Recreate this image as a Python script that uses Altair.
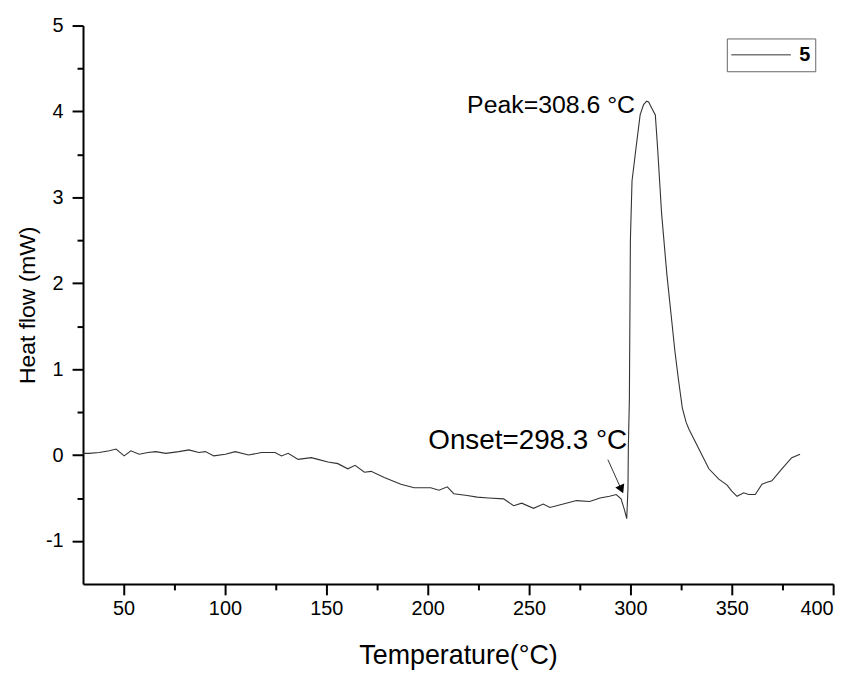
import altair as alt
import pandas as pd

# Heat-flow curve
temperature = [30, 33, 38, 43, 46.3, 50.3, 53.6, 57.7, 62, 65.9, 70.8, 77.3, 82.2, 87.1,
               90.4, 94.5, 100.2, 105.1, 111.6, 118.1, 124.7, 127.9, 131.2, 136.1, 142.6,
               145.9, 150.8, 155.7, 160.6, 164.2, 168.8, 172.1, 178.6, 186.8, 193.3, 201.5,
               205.6, 209.7, 212.9, 219.5, 224.4, 230, 237.5, 242.4, 246.4, 252.2, 257,
               260.3, 266.9, 273.4, 279.9, 285, 289.7, 293, 295.4, 297.1, 298.2, 298.8,
               299.0, 299.5, 300.0, 300.8, 302.8, 304.8, 306.5, 308.0, 309.0, 310.3, 312.3,
               313.4, 315.4, 318, 320, 322, 323.7, 325.6, 327.5, 328.9, 333.8, 338.7, 343.6,
               347.7, 350, 352.6, 355.9, 358.3, 361.6, 364.9, 367, 369.8, 374.7, 379.6, 383.7]
heat_flow = [0.02, 0.02, 0.03, 0.05, 0.07, -0.01, 0.05, 0.01, 0.03, 0.04, 0.02, 0.04, 0.06, 0.03,
             0.04, -0.01, 0.01, 0.04, 0.0, 0.03, 0.03, -0.01, 0.02, -0.05, -0.03,
             -0.05, -0.08, -0.10, -0.16, -0.12, -0.20, -0.19, -0.26, -0.34, -0.38, -0.38,
             -0.41, -0.37, -0.45, -0.47, -0.49, -0.50, -0.51, -0.59, -0.56, -0.62, -0.57,
             -0.61, -0.57, -0.53, -0.54, -0.50, -0.48, -0.46, -0.51, -0.64, -0.74, -0.39,
             0.11, 0.65, 2.5, 3.19, 3.58, 3.96, 4.08, 4.12, 4.11, 4.05, 3.96,
             3.58, 2.81, 2.1, 1.65, 1.2, 0.88, 0.55, 0.38, 0.30, 0.07, -0.16, -0.28,
             -0.35, -0.42, -0.48, -0.44, -0.46, -0.46, -0.34, -0.32, -0.30, -0.16, -0.03, 0.01]
series_name = "5"

# Annotations
ann_text = ["Peak=308.6 °C", "Onset=298.3 °C"]
ann_x = [302.3, 298.4]
ann_y = [4.07, 0.16]
ann_size = [25, 28]

arrow_x = [288.9]
arrow_y = [-0.054]
arrow_x2 = [295.5]
arrow_y2 = [-0.40]
head_x = [295.6]
head_y = [-0.40]

x_major = [50, 100, 150, 200, 250, 300, 350, 400]
x_minor = [75, 125, 175, 225, 275, 325, 375]
y_major = [-1, 0, 1, 2, 3, 4, 5]
y_minor = [-0.5, 0.5, 1.5, 2.5, 3.5, 4.5]

FONT = "Liberation Sans"

df = pd.DataFrame({"T": temperature, "HF": heat_flow, "s": [series_name] * len(temperature)})
ann = pd.DataFrame({"t": ann_text, "x": ann_x, "y": ann_y, "fs": ann_size})
arr = pd.DataFrame({"x": arrow_x, "y": arrow_y, "x2": arrow_x2, "y2": arrow_y2})
head = pd.DataFrame({"x": head_x, "y": head_y})

xscale = alt.Scale(domain=[30, 400], nice=False, zero=False)
yscale = alt.Scale(domain=[-1.5, 5], nice=False, zero=False)

xaxis = alt.Axis(
    values=x_major, title="Temperature(°C)", grid=False, orient="bottom",
    tickSize=11, labelPadding=4, titlePadding=24, titleFontSize=27,
    labelFontSize=20, labelFont=FONT,
)
yaxis = alt.Axis(
    values=y_major, title="Heat flow (mW)", grid=False, orient="left",
    labelExpr="'' + datum.value",
    tickSize=11, labelPadding=9, titlePadding=6, titleFontSize=23,
    labelFontSize=20, labelFont=FONT,
)
xaxis_minor = alt.Axis(values=x_minor, title=None, grid=False, orient="bottom",
                       labels=False, domain=False, tickSize=6)
yaxis_minor = alt.Axis(values=y_minor, title=None, grid=False, orient="left",
                       labels=False, domain=False, tickSize=6)

line = alt.Chart(df).mark_line(strokeWidth=1.1, interpolate="linear").encode(
    x=alt.X("T:Q", scale=xscale, axis=xaxis),
    y=alt.Y("HF:Q", scale=yscale, axis=yaxis),
    color=alt.Color("s:N", scale=alt.Scale(domain=[series_name], range=["#333333"]),
                    legend=alt.Legend(title=None, orient="none", legendX=648, legendY=13,
                                      symbolType="stroke", symbolSize=3600, clipHeight=25,
                                      symbolStrokeWidth=1, symbolStrokeColor="#666666",
                                      labelFontSize=20, labelFontWeight="bold",
                                      labelFont=FONT, labelOffset=8,
                                      strokeColor="#666666", fillColor="white",
                                      padding=4)),
)

minor = alt.Chart(df).mark_line(opacity=0).encode(
    x=alt.X("T:Q", scale=xscale, axis=xaxis_minor),
    y=alt.Y("HF:Q", scale=yscale, axis=yaxis_minor),
)

texts = alt.Chart(ann).mark_text(align="right", baseline="middle",
                                 font=FONT, color="black").encode(
    x=alt.X("x:Q", scale=xscale, axis=None), y=alt.Y("y:Q", scale=yscale, axis=None),
    text="t:N", size=alt.Size("fs:Q", scale=None, legend=None))

arrow = alt.Chart(arr).mark_rule(color="#333333", strokeWidth=1).encode(
    x=alt.X("x:Q", scale=xscale, axis=None), y=alt.Y("y:Q", scale=yscale, axis=None),
    x2="x2:Q", y2="y2:Q")

arrowhead = alt.Chart(head).mark_point(shape="triangle-up", filled=True, color="black",
                                       size=95, angle=156, opacity=1).encode(
    x=alt.X("x:Q", scale=xscale, axis=None), y=alt.Y("y:Q", scale=yscale, axis=None))

chart = alt.layer(line, minor, arrow, arrowhead, texts).resolve_axis(
    x="independent", y="independent"
).properties(
    width=755, height=562,
    autosize=alt.AutoSizeParams(type="none"),
    padding={"left": 75.5, "top": 15.5, "right": 20, "bottom": 85},
).configure_view(stroke=None).configure_axis(
    domainColor="black", domainWidth=2, tickColor="black", tickWidth=2,
    labelFont=FONT, labelFontSize=20, labelColor="black",
    titleFont=FONT, titleFontWeight="normal", titleColor="black",
)

chart.save("out.html", embed_options={"renderer": "svg", "actions": False})
